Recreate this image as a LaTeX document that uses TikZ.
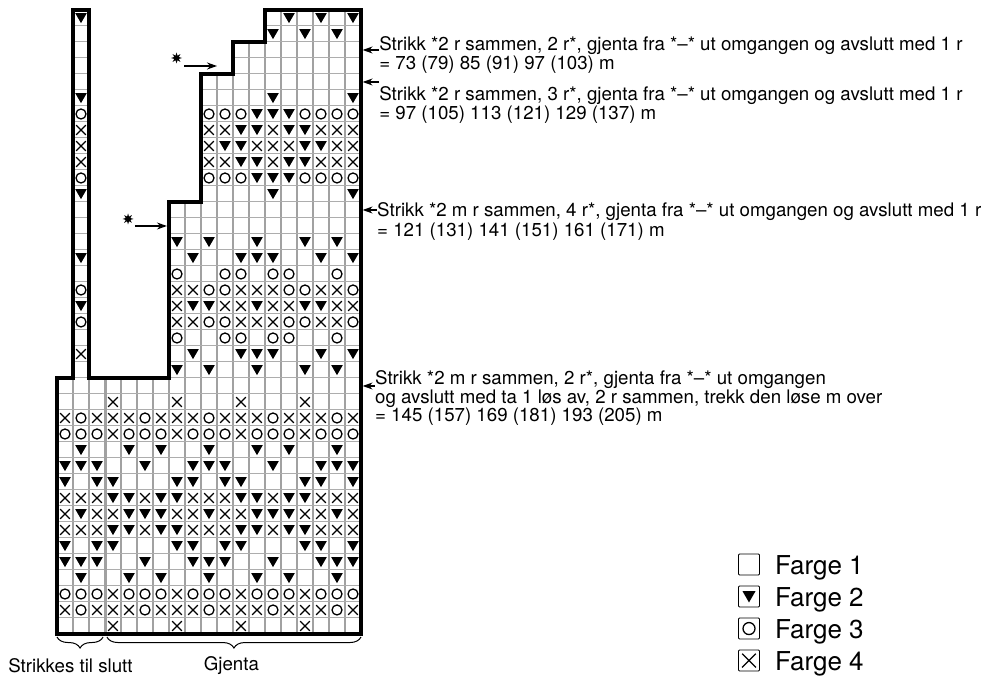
\documentclass[tikz,border=0pt]{standalone}
\usepackage{fontspec}
\setmainfont{TeX Gyre Heros}
\usetikzlibrary{arrows.meta}
\usetikzlibrary{shapes.geometric}
\usetikzlibrary{shapes.misc}
\usetikzlibrary{positioning}
\usetikzlibrary{decorations.pathreplacing}

\begin{document}
\begin{tikzpicture}[x=16pt, y=16pt]
\tikzset{
   >={Stealth[length = 10pt, width = 7pt]},
   gridv/.style = {draw = black!37, line width = 1.4pt},
   gridh/.style = {draw = black!32, line width = 1pt},
   border/.style = {draw, line width = 3.6pt, line join = miter},
   symt/.style = {regular polygon, regular polygon sides = 3, shape border rotate = 180, fill = black, inner sep = 0pt, minimum size = 13.5pt, yshift = 1.6pt},
   symo/.style = {circle, draw, line width = 1.3pt, inner sep = 0pt, minimum size = 10pt},
   symx/.style = {cross out, draw, line width = 1.2pt, inner sep = 0pt, minimum size = 8.5pt},
   asterisk/.style = {star, star points = 8, star point ratio = 2.2, fill = black, inner sep = 0pt, minimum size = 11pt},
   note/.style = {anchor = north west, align = left, font = \fontsize{18.7}{18.6}\selectfont, inner sep = 0pt},
   marker/.style = {->, line width = 1.3pt},
   curly/.style = {decorate, decoration = {brace, mirror, amplitude = 11pt}, line width = 1pt},
   caption/.style = {font = \fontsize{18.7}{20}\selectfont, inner sep = 0pt},
   legbox/.style = {draw, rounded corners = 1pt, line width = 0.8pt, minimum size = 21pt, inner sep = 0pt},
   legtext/.style = {font = \fontsize{26}{28}\selectfont, inner sep = 0pt, node distance = 15pt, yshift = -3.5pt}
}
  \useasboundingbox (-3.5625,-2.6875) rectangle (57.875,39.625);

  \foreach \x/\top in {1/16,2/16,3/16,4/16,5/16,6/16,7/16,8/27,9/27,10/35,11/35,12/37,13/37,14/39,15/39,16/39,17/39,18/39}
     \draw [gridv] (\x,0) -- (\x,\top);
  \foreach \y/\left in {1/0,2/0,3/0,4/0,5/0,6/0,7/0,8/0,9/0,10/0,11/0,12/0,13/0,14/0,15/0,16/0,17/7,18/7,19/7,20/7,21/7,22/7,23/7,24/7,25/7,26/7,27/7,28/9,29/9,30/9,31/9,32/9,33/9,34/9,35/11,36/11,37/13,38/13}
     \draw [gridh] (\left,\y) -- (19,\y);
  \foreach \y in {17,...,38}
     \draw [gridh] (1,\y) -- (2,\y);
  \draw [gridv, line width = 3pt] (3,0) -- (3,16);

  \foreach \sym/\rows/\cols in {
     symt/{3,11}/{1,4,6,9,12,14,17},
     symt/{4,10}/{0,1,2,5,8,9,10,13,16,17,18},
     symt/{5,9}/{0,2,3,7,8,10,11,15,16,18},
     symt/{6,8}/{3,4,6,7,11,12,14,15},
     symt/{7}/{1,4,5,6,9,12,13,14,17},
     symt/{16,24}/{7,9,12,15,17},
     symt/{17}/{8,11,12,13,16,18},
     symt/{23}/{1,8,11,12,13,16,18},
     symt/{20}/{1,8,9,12,15,16},
     symt/{27,33}/{1,13,18},
     symt/{28,32}/{12,13,14},
     symt/{29,31}/{11,12,14,15},
     symt/{30}/{10,11,15,16},
     symt/{37}/{13,15,17},
     symt/{38}/{1,14,16,18},
     symo/{1,13}/{1,5,9,13,17},
     symo/{2,12}/{0,1,2,4,5,6,8,9,10,12,13,14,16,17,18},
     symo/{18,22}/{7,10,11,13,14,17},
     symo/{19,21}/{1,9,10,14,15,18},
     symo/{28,32}/{1,9,10,11,15,16,17,18},
     symx/{0,14}/{3,7,11,15},
     symx/{1,13}/{0,2,3,4,6,7,8,10,11,12,14,15,16,18},
     symx/{2,12}/{3,7,11,15},
     symx/{6,8}/{0,1,2,5,8,9,10,13,16,17,18},
     symx/{7}/{0,2,3,7,8,10,11,15,16,18},
     symx/{17}/{1},
     symx/{19,21}/{7,8,11,12,13,16,17},
     symx/{20}/{7,10,11,13,14,17,18},
     symx/{29,31}/{1,9,10,13,16,17,18},
     symx/{30}/{1,9,12,13,14,17,18}}
     \foreach \n in \rows
        \foreach \c in \cols
           \node [\sym] (\sym-\n-\c) at (\c+0.5,\n+0.5) {};

  \draw [border] (0,0) -- (0,16) -- (1,16) -- (1,39) -- (2,39) -- (2,16) -- (7,16) -- (7,27) -- (9,27) -- (9,35) -- (11,35) -- (11,37) -- (13,37) -- (13,39) -- (19,39) -- (19,0) -- cycle;

  \coordinate (tip_a) at (19.1,36.5);
  \coordinate (tip_b) at (19.1,34.5);
  \coordinate (tip_c) at (19.1,26.5);
  \coordinate (tip_d) at (19.1,15.5);

  \node [note] (note_a) at (20.13,37.35) {Strikk *2 r sammen, 2 r*, gjenta fra *–* ut omgangen og avslutt med 1 r\\= 73 (79) 85 (91) 97 (103) m};
  \node [note] (note_b) at (20.13,34.22) {Strikk *2 r sammen, 3 r*, gjenta fra *–* ut omgangen og avslutt med 1 r\\= 97 (105) 113 (121) 129 (137) m};
  \node [note] (note_c) at (20,27) {Strikk *2 m r sammen, 4 r*, gjenta fra *–* ut omgangen og avslutt med 1 r\\[1.4pt]= 121 (131) 141 (151) 161 (171) m};
  \node [note] (note_d) at (19.87,16.47) {Strikk *2 m r sammen, 2 r*, gjenta fra *–* ut omgangen\\og avslutt med ta 1 løs av, 2 r sammen, trekk den løse m over\\= 145 (157) 169 (181) 193 (205) m};

  \draw [marker] (tip_a -| note_a.west) -- (tip_a);
  \draw [marker] (tip_b -| note_b.west) -- (tip_b);
  \draw [marker] (tip_c -| note_c.west) -- (tip_c);
  \draw [marker] (tip_d -| note_d.west) -- (tip_d);

  \node [asterisk] (star_a) at (7.47,36) {};
  \node [asterisk] (star_b) at (4.44,25.94) {};
  \coordinate (from_a) at (7.94,35.5);
  \coordinate (to_a) at (10,35.5);
  \coordinate (from_b) at (4.87,25.5);
  \coordinate (to_b) at (6.87,25.5);
  \draw [marker] (from_a) -- (to_a);
  \draw [marker] (from_b) -- (to_b);

  \coordinate (brace_a) at (0,-0.19);
  \coordinate (brace_b) at (2.88,-0.19);
  \coordinate (brace_c) at (3.12,-0.19);
  \coordinate (brace_d) at (19,-0.19);
  \draw [curly] (brace_a) -- (brace_b);
  \draw [curly] (brace_c) -- (brace_d);
  \node [caption] (keep) at (0.84,-1.95) {Strikkes til slutt};
  \node [caption] (repeat) at (10.9,-1.95) {Gjenta};

  \node [legbox] (box_a) at (43.25,4.34) {};
  \node [legbox] (box_b) at (43.25,2.34) {};
  \node [legbox] (box_c) at (43.25,0.34) {};
  \node [legbox] (box_d) at (43.25,-1.66) {};
  \node [symt, minimum size = 15pt] (sym_b) at (box_b) {};
  \node [symo, minimum size = 12pt] (sym_c) at (box_c) {};
  \node [symx, minimum size = 12.5pt] (sym_d) at (box_d) {};
  \node [legtext] (text_a) [right = of box_a] {Farge 1};
  \node [legtext] (text_b) [right = of box_b] {Farge 2};
  \node [legtext] (text_c) [right = of box_c] {Farge 3};
  \node [legtext] (text_d) [right = of box_d] {Farge 4};

\end{tikzpicture}
\end{document}
